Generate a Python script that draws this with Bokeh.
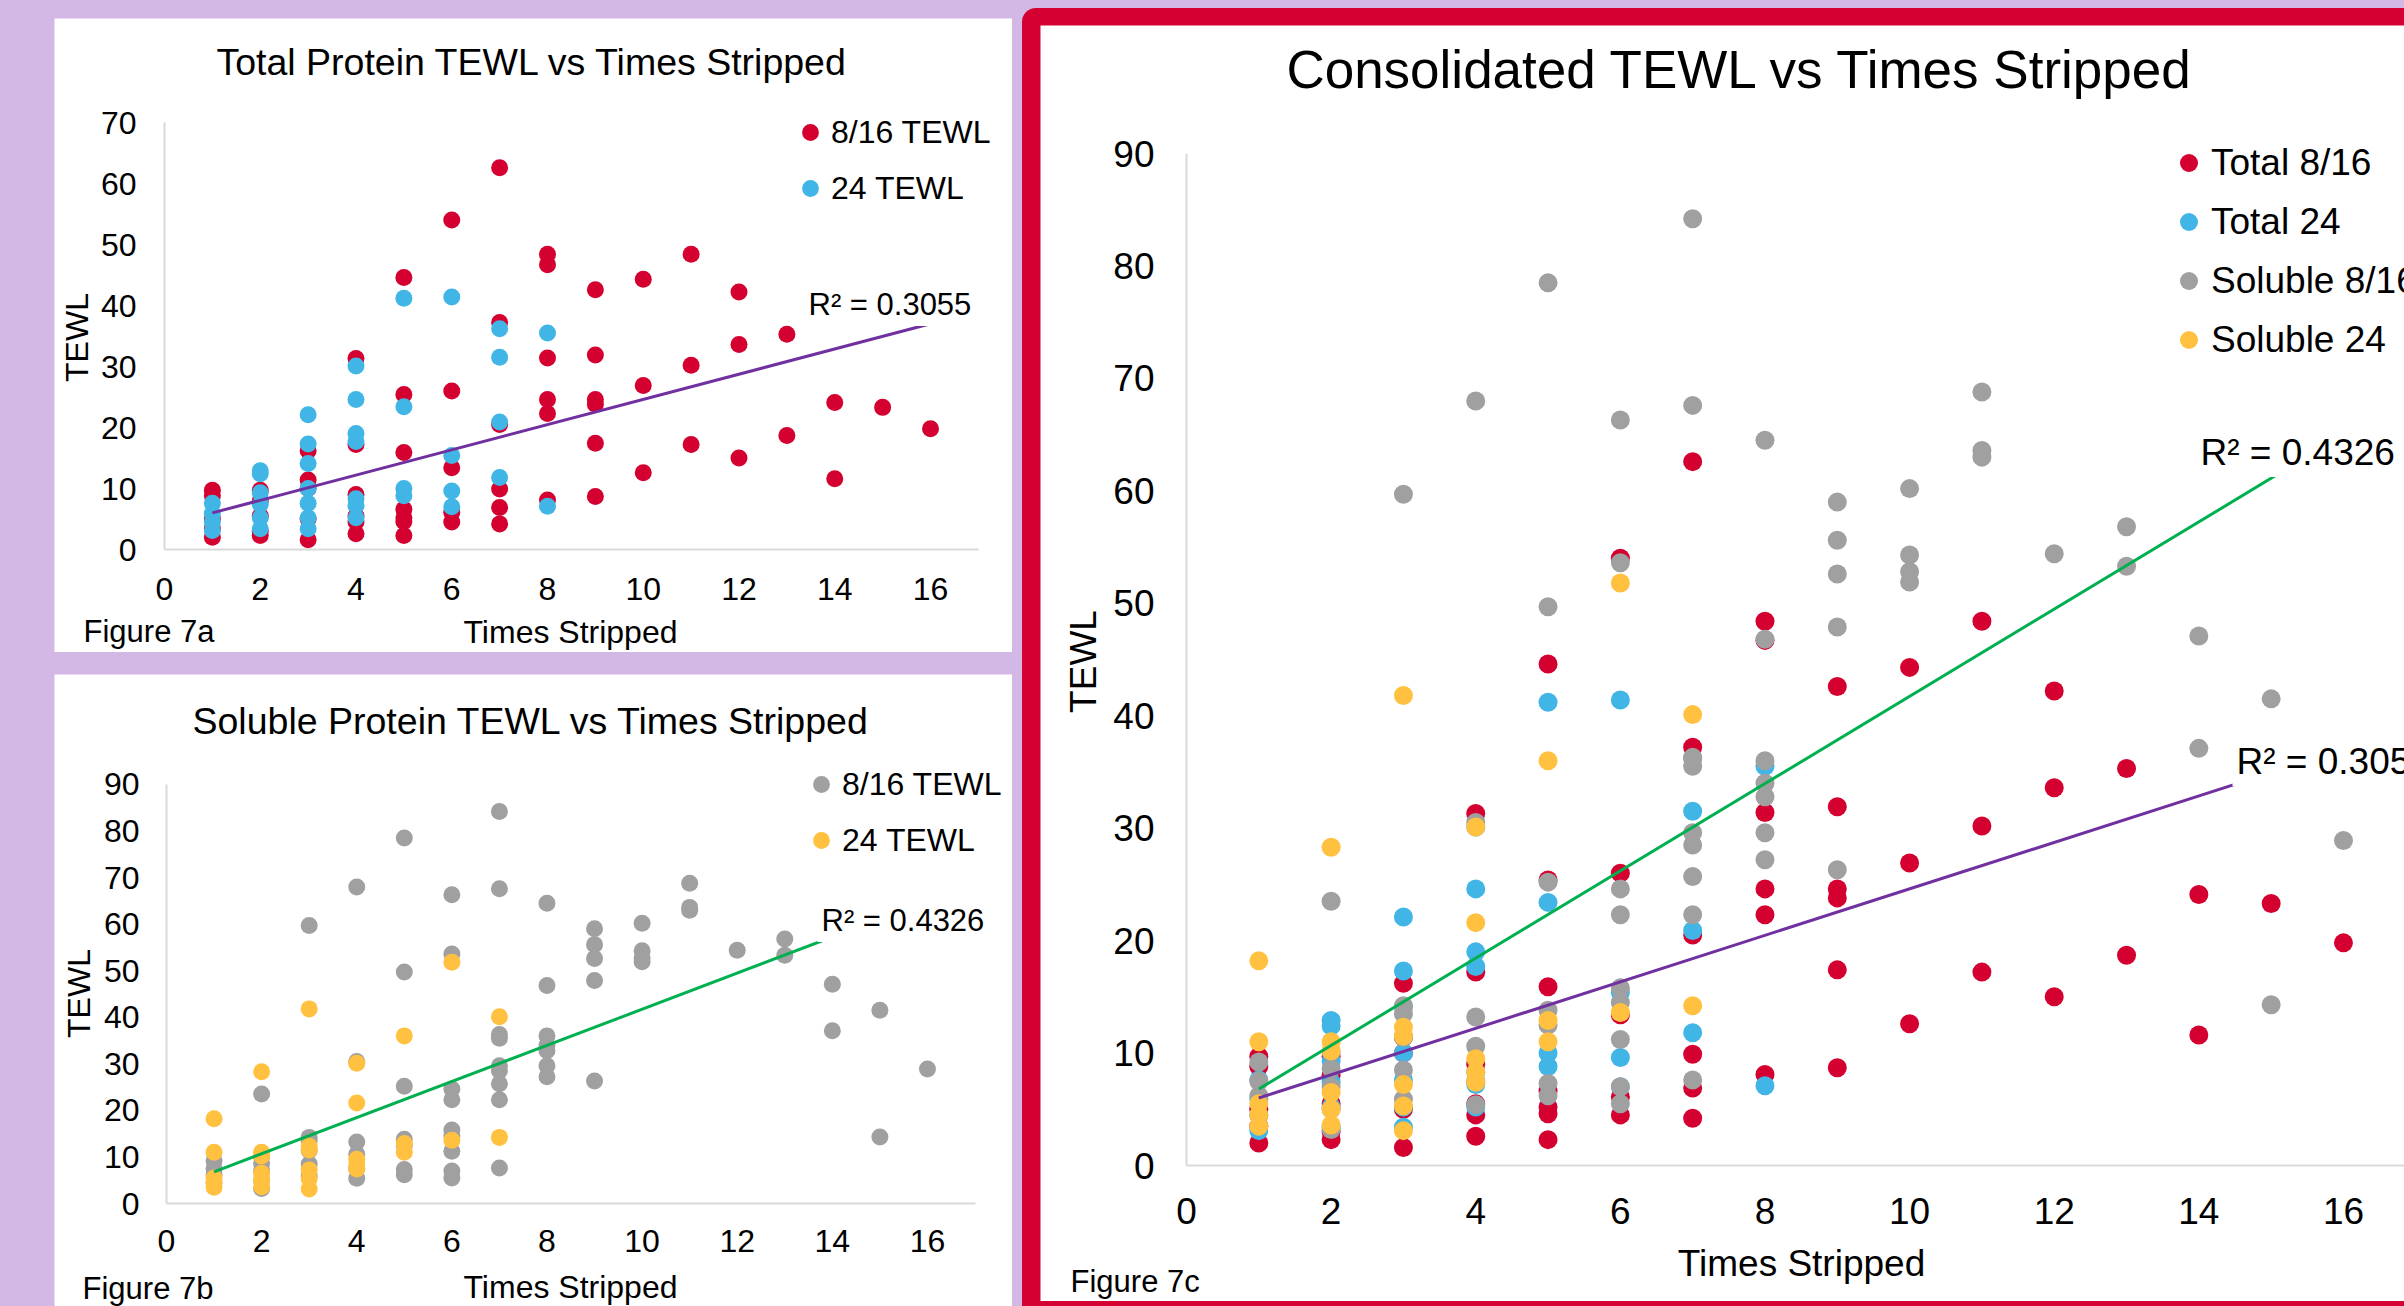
import math
from bokeh.plotting import figure
from bokeh.models import Range1d, FixedTicker, Label, Legend, LegendItem
from bokeh.layouts import row, column
from bokeh.embed import file_html
from bokeh.resources import INLINE

FONT = "Liberation Sans"
LAVENDER = "#D3B8E6"
RED_BORDER = "#D50032"
C_RED = "#D40030"
C_BLUE = "#41B6E6"
C_GRAY = "#A0A0A0"
C_YELLOW = "#FFC13F"
C_GREEN = "#00B050"
C_PURPLE = "#7030A0"

# ---------------- data ----------------
x_ticks = [0, 2, 4, 6, 8, 10, 12, 14, 16]
y_ticks_70 = [0, 10, 20, 30, 40, 50, 60, 70]
y_ticks_90 = [0, 10, 20, 30, 40, 50, 60, 70, 80, 90]

total816_x = [1, 1, 1, 1, 1, 2, 2, 2, 2, 2, 3, 3, 3, 3, 3, 4, 4, 4, 4, 4, 4,
              5, 5, 5, 5, 5, 5, 5, 6, 6, 6, 6, 6, 7, 7, 7, 7, 7, 7, 8, 8, 8, 8, 8, 8,
              9, 9, 9, 9, 9, 9, 10, 10, 10, 11, 11, 11, 12, 12, 12, 13, 13, 14, 14, 15, 16]
total816_y = [9.7, 8.8, 5.0, 3.5, 2.0, 9.7, 8.0, 5.5, 3.0, 2.3, 16.2, 11.4, 10.0, 5.0, 1.6,
              31.3, 17.2, 9.0, 5.5, 4.5, 2.6, 44.6, 25.4, 15.9, 6.6, 5.2, 4.6, 2.3,
              54.0, 26.0, 13.4, 6.1, 4.5, 62.6, 37.2, 20.5, 9.9, 6.9, 4.2,
              48.4, 46.7, 31.4, 24.6, 22.3, 8.1, 42.6, 31.9, 24.6, 23.8, 17.4, 8.7,
              44.3, 26.9, 12.6, 48.4, 30.2, 17.2, 42.2, 33.6, 15.0, 35.3, 18.7,
              24.1, 11.6, 23.3, 19.8]

total24_x = [1, 1, 1, 1, 2, 2, 2, 2, 2, 2, 3, 3, 3, 3, 3, 3, 3, 4, 4, 4, 4, 4, 4, 4,
             5, 5, 5, 5, 6, 6, 6, 6, 7, 7, 7, 7, 8, 8]
total24_y = [7.6, 5.9, 4.5, 3.1, 12.9, 12.4, 9.3, 7.4, 5.2, 3.4,
             22.1, 17.3, 14.1, 10.0, 7.6, 5.2, 3.4, 30.1, 24.6, 19.0, 17.7, 8.3, 7.2, 5.2,
             41.2, 23.4, 10.0, 8.8, 41.4, 15.4, 9.6, 7.0, 36.2, 31.5, 20.9, 11.8, 35.5, 7.1]

sol816_x = [1, 1, 1, 1, 2, 2, 2, 2, 2, 2, 3, 3, 3, 3, 3, 3, 4, 4, 4, 4, 4, 4,
            5, 5, 5, 5, 5, 5, 5, 6, 6, 6, 6, 6, 6, 6, 6, 6, 7, 7, 7, 7, 7, 7, 7, 7, 7,
            8, 8, 8, 8, 8, 8, 8, 9, 9, 9, 9, 9, 10, 10, 10, 10, 11, 11, 11, 12,
            13, 13, 14, 14, 15, 15, 16]
sol816_y = [9.2, 7.5, 6.2, 4.5, 23.5, 10.1, 8.6, 7.0, 5.0, 3.2,
            59.7, 14.2, 13.5, 11.4, 8.5, 5.9, 68.0, 30.5, 13.2, 10.6, 7.5, 5.4,
            78.5, 49.7, 25.2, 13.8, 12.5, 7.3, 6.2,
            66.3, 53.6, 24.6, 22.3, 15.8, 14.5, 11.2, 7.0, 5.5,
            84.2, 67.6, 36.3, 35.5, 29.6, 28.5, 25.7, 22.3, 7.6,
            64.5, 46.8, 36.0, 34.0, 32.8, 29.6, 27.2, 59.0, 55.6, 52.6, 47.9, 26.3,
            60.2, 54.3, 52.8, 51.9, 68.8, 63.6, 63.0, 54.4,
            56.8, 53.3, 47.1, 37.1, 41.5, 14.3, 28.9]

sol24_x = [1, 1, 1, 1, 1, 2, 2, 2, 2, 2, 2, 3, 3, 3, 3, 3, 3, 4, 4, 4, 4, 4,
           5, 5, 5, 6, 6, 7, 7]
sol24_y = [18.2, 11.0, 5.5, 4.5, 3.5, 28.3, 11.0, 10.2, 6.5, 5.0, 3.6,
           41.8, 12.3, 11.5, 7.2, 5.3, 3.1, 30.1, 21.6, 9.5, 8.3, 7.4,
           36.0, 12.9, 11.0, 51.8, 13.6, 40.1, 14.2]

trend_x = [1, 16]
total_trend_y = [6.0, 37.0]
soluble_trend_y = [6.8, 65.0]

total_r2 = "R² = 0.3055"
soluble_r2 = "R² = 0.4326"


def make_fig(W, H, x0px, y0px, xppu, yppu, x_bounds, y_bounds, y_ticks,
             tick_fs, x_std, y_std):
    """Frame fills the figure; axes are pinned at x=0 / y=0 inside it."""
    p = figure(width=W, height=H,
               x_range=Range1d(-x0px / xppu, (W - x0px) / xppu),
               y_range=Range1d(-(H - y0px) / yppu, y0px / yppu),
               output_backend="svg", toolbar_location=None, min_border=0,
               background_fill_color="white", border_fill_color="white",
               outline_line_color=None)
    p.xgrid.visible = False
    p.ygrid.visible = False
    for ax in (p.xaxis[0], p.yaxis[0]):
        ax.fixed_location = 0
        ax.major_tick_line_color = None
        ax.minor_tick_line_color = None
        ax.major_tick_out = 0
        ax.major_tick_in = 0
        ax.minor_tick_out = 0
        ax.axis_line_color = "#D9D9D9"
        ax.axis_line_width = 2
        ax.major_label_text_font = FONT
        ax.major_label_text_font_size = f"{tick_fs}px"
        ax.major_label_text_color = "black"
    p.xaxis[0].bounds = x_bounds
    p.yaxis[0].bounds = y_bounds
    p.xaxis[0].ticker = FixedTicker(ticks=x_ticks)
    p.yaxis[0].ticker = FixedTicker(ticks=y_ticks)
    p.xaxis[0].major_label_standoff = x_std
    p.yaxis[0].major_label_standoff = y_std
    return p


def txt(p, org, H, X, Y, text, fs, align="left", angle=0.0, bg=None):
    """Place text at page position (X, Y) inside figure p whose top-left is org."""
    ox, oy = org
    kw = dict(background_fill_color=bg, padding=4) if bg else {}
    p.add_layout(Label(x=X - ox, y=H - (Y - oy), x_units="screen", y_units="screen",
                       text=text, angle=angle, text_font=FONT,
                       text_font_size=f"{fs}px", text_color="black",
                       text_align=align, text_baseline="middle", **kw))


def make_legend(items, loc, glyph, spacing, fs):
    return Legend(items=items, location=loc, orientation="vertical",
                  glyph_width=glyph, glyph_height=glyph, spacing=spacing,
                  padding=0, margin=0, label_standoff=0,
                  border_line_color=None, background_fill_alpha=0,
                  label_text_font=FONT, label_text_font_size=f"{fs}px",
                  label_text_color="black")


# ---------------- Figure 7a ----------------
A_ORG, A_W, A_H = (54, 18), 958, 634
p7a = make_fig(A_W, A_H, 110, 531, 47.875, 6.1, (0, 17), (0, 70), y_ticks_70, 32, 28, 28)
ra1 = p7a.scatter(total816_x, total816_y, size=17, fill_color=C_RED, line_color=None)
ra2 = p7a.scatter(total24_x, total24_y, size=17, fill_color=C_BLUE, line_color=None)
p7a.line(trend_x, total_trend_y, line_color=C_PURPLE, line_width=3)
txt(p7a, A_ORG, A_H, 532, 61, "Total Protein TEWL vs Times Stripped", 37.5, "center")
txt(p7a, A_ORG, A_H, 76, 337, "TEWL", 32, "center", math.pi / 2)
txt(p7a, A_ORG, A_H, 570, 631, "Times Stripped", 32, "center")
txt(p7a, A_ORG, A_H, 83, 631, "Figure 7a", 31)
txt(p7a, A_ORG, A_H, 804, 304, total_r2, 31, bg="white")
p7a.add_layout(make_legend([LegendItem(label="8/16 TEWL", renderers=[ra1]),
                            LegendItem(label="24 TEWL", renderers=[ra2])],
                           (735, 443), 42, 14, 32))
p7a.margin = (18, 0, 0, 54)

# ---------------- Figure 7b ----------------
B_ORG, B_W, B_H = (54, 674), 958, 632
p7b = make_fig(B_W, B_H, 112, 529, 47.56, 4.656, (0, 17), (0, 90), y_ticks_90, 32, 26, 27)
rb1 = p7b.scatter(sol816_x, sol816_y, size=17, fill_color=C_GRAY, line_color=None)
rb2 = p7b.scatter(sol24_x, sol24_y, size=17, fill_color=C_YELLOW, line_color=None)
p7b.line(trend_x, soluble_trend_y, line_color=C_GREEN, line_width=3)
txt(p7b, B_ORG, B_H, 531, 720, "Soluble Protein TEWL vs Times Stripped", 37.5, "center")
txt(p7b, B_ORG, B_H, 78, 993, "TEWL", 32, "center", math.pi / 2)
txt(p7b, B_ORG, B_H, 570, 1286, "Times Stripped", 32, "center")
txt(p7b, B_ORG, B_H, 82, 1288, "Figure 7b", 31)
txt(p7b, B_ORG, B_H, 817, 920, soluble_r2, 31, bg="white")
p7b.add_layout(make_legend([LegendItem(label="8/16 TEWL", renderers=[rb1]),
                            LegendItem(label="24 TEWL", renderers=[rb2])],
                           (746, 445), 42, 14, 32))
p7b.margin = (22, 0, 0, 54)

# ---------------- Figure 7c ----------------
C_ORG, C_W, C_H = (1040, 25), 1364, 1276
p7c = make_fig(C_W, C_H, 146, 1140, 72.31, 11.244, (0, 17), (0, 90), y_ticks_90, 37, 32, 32)
rc1 = p7c.scatter(total816_x, total816_y, size=19, fill_color=C_RED, line_color=None)
rc2 = p7c.scatter(total24_x, total24_y, size=19, fill_color=C_BLUE, line_color=None)
rc3 = p7c.scatter(sol816_x, sol816_y, size=19, fill_color=C_GRAY, line_color=None)
rc4 = p7c.scatter(sol24_x, sol24_y, size=19, fill_color=C_YELLOW, line_color=None)
p7c.line(trend_x, soluble_trend_y, line_color=C_GREEN, line_width=3)
p7c.line(trend_x, total_trend_y, line_color=C_PURPLE, line_width=3)
txt(p7c, C_ORG, C_H, 1740, 69, "Consolidated TEWL vs Times Stripped", 53, "center")
txt(p7c, C_ORG, C_H, 1083, 661, "TEWL", 37, "center", math.pi / 2)
txt(p7c, C_ORG, C_H, 1801, 1263, "Times Stripped", 37, "center")
txt(p7c, C_ORG, C_H, 1070, 1281, "Figure 7c", 31)
txt(p7c, C_ORG, C_H, 2196, 452, soluble_r2, 37, bg="white")
txt(p7c, C_ORG, C_H, 2232, 761, total_r2, 37, bg="white")
p7c.add_layout(make_legend([LegendItem(label="Total 8/16", renderers=[rc1]),
                            LegendItem(label="Total 24", renderers=[rc2]),
                            LegendItem(label="Soluble 8/16", renderers=[rc3]),
                            LegendItem(label="Soluble 24", renderers=[rc4])],
                           (1126, 939), 45, 14, 37))
p7c.margin = (17, 0, 5, 18)

left_col = column(p7a, p7b, spacing=0)
right_wrap = column(p7c, styles={"background-color": RED_BORDER,
                                 "border-radius": "14px 0 0 0"})
right_wrap.margin = (8, 0, 0, 0)
root = row(left_col, right_wrap, spacing=10, styles={"background-color": LAVENDER})

open("out.html", "w").write(file_html(root, INLINE))
